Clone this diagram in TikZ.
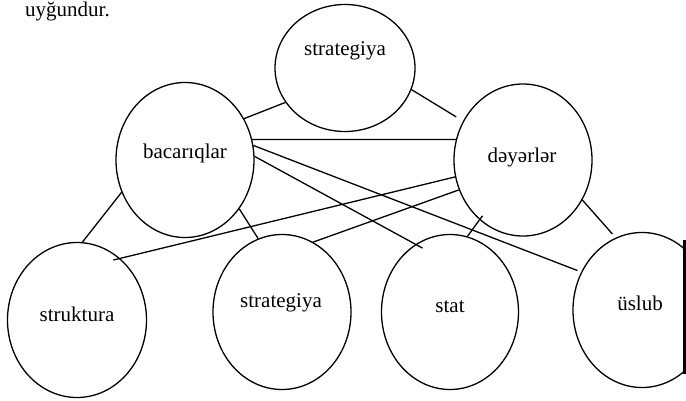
\documentclass[tikz,border=0pt]{standalone}
\usepackage{fontspec}
\setmainfont{Liberation Serif}
\usetikzlibrary{shapes.geometric}
\begin{document}
\begin{tikzpicture}[x=1pt,y=-1pt,
  bubble/.style={draw, ellipse, line width=1.3pt, inner sep=0pt,
                 minimum width=138pt, minimum height=155pt},
  word/.style={anchor=base, inner sep=0pt, font=\fontsize{21}{25}\selectfont},
  link/.style={line width=1.3pt}]
\useasboundingbox (0,0) rectangle (686,400);

% running text above the chart
\node[word, anchor=base west] (lead) at (25,16) {uyğundur.};

% circles
\node[bubble, minimum width=140pt, minimum height=127pt] (top) at (345,68) {};
\node[bubble] (bac) at (185,160) {};
\node[bubble, minimum height=152pt] (dey) at (523,160) {};
\node[bubble, minimum width=139pt] (str) at (77,320) {};
\node[bubble] (stg) at (282,312) {};
\node[bubble, minimum width=137pt] (stat) at (450,312) {};
\begin{scope}
  \clip (560,200) rectangle (683,400);
  \node[bubble] (usl) at (642,310) {};
\end{scope}
% page edge cutting the last circle
\coordinate (edgeA) at (684,240);
\coordinate (edgeB) at (684,374);
\draw[line width=3pt] (edgeA) -- (edgeB);

% labels
\node[word] (topt) at (345,55) {strategiya};
\node[word] (bact) at (185,158) {bacarıqlar};
\node[word] (deyt) at (522,162) {dəyərlər};
\node[word] (strt) at (77,321) {struktura};
\node[word] (stgt) at (281,307) {strategiya};
\node[word] (statt) at (450,312) {stat};
\node[word] (uslt) at (640,310) {üslub};

% connectors
\draw[link] (bac.35) -- (top.-150);
\draw[link, shorten >=8pt] (top.-18) -- (dey.147);
\draw[link] (bac.17) -- (dey.163);
\draw[link, shorten >=4pt] (bac.12) -- (usl.148);
\draw[link, shorten >=-8pt] (bac.3) -- (stat.117);
\draw[link, shorten >=-7pt] (dey.194) -- (str.55);
\draw[link] (dey.205) -- (stg.66);
\draw[link, shorten >=-5pt] (stat.77) -- (dey.-126);
\draw[link, shorten >=5pt] (dey.-34) -- (usl.110);
\draw[link] (bac.207) -- (str.86);
\draw[link] (bac.-42) -- (stg.108);
\end{tikzpicture}
\end{document}
